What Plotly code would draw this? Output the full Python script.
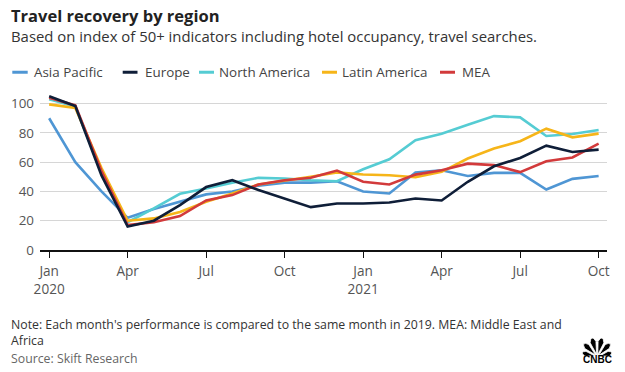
import math
import plotly.graph_objects as go

months = ["Jan 2020", "Feb 2020", "Mar 2020", "Apr 2020", "May 2020", "Jun 2020",
          "Jul 2020", "Aug 2020", "Sep 2020", "Oct 2020", "Nov 2020", "Dec 2020",
          "Jan 2021", "Feb 2021", "Mar 2021", "Apr 2021", "May 2021", "Jun 2021",
          "Jul 2021", "Aug 2021", "Sep 2021", "Oct 2021"]

asia_pacific = [90, 60, 40, 22, 28, 33, 38, 40, 44, 46, 46, 47, 40, 38.6, 53, 54.5, 50.6, 52.7, 52.7, 41.3, 48.6, 50.6]
europe = [105, 98.3, 51, 16, 20, 30.7, 43, 47.7, 41, 35.2, 29.3, 31.8, 31.8, 32.5, 35.2, 33.8, 46.6, 57.2, 62.9, 71.3, 67, 68.6]
north_america = [103, 98, 53, 19, 28.4, 38.4, 42, 46, 49.3, 48.8, 47.7, 47, 55.2, 62, 75, 79.5, 85.6, 91.5, 90.6, 77.9, 79.3, 82]
latin_america = [99.5, 97, 56, 20, 21.6, 26, 33, 38.6, 44.8, 47.2, 50, 53, 51.6, 51.1, 49.7, 53.4, 62.5, 69.3, 74.3, 82.9, 77, 79.5]
mea = [104, 98.8, 54, 17, 18.9, 23.2, 33.9, 37.5, 44.8, 47.7, 49.3, 54.3, 46.6, 44.8, 51.5, 54.5, 59, 58, 53.2, 60.6, 63.2, 72.7]

series_names = ["Asia Pacific", "Europe", "North America", "Latin America", "MEA"]
series_values = [asia_pacific, europe, north_america, latin_america, mea]
series_colors = ["#4f96d4", "#0f1e38", "#55ccd3", "#f6b519", "#d23a3b"]

tick_idx = [0, 3, 6, 9, 12, 15, 18, 21]
tick_labels = ["Jan<br>2020", "Apr", "Jul", "Oct", "Jan<br>2021", "Apr", "Jul", "Oct"]
y_ticks = [0, 20, 40, 60, 80, 100]

# The page body has an 8px margin: lay the figure out in page pixels minus that offset.
OFF = 8
W, H = 625 - OFF, 372 - OFF
PL, PR, PT, PB = 40, 607, 88.6, 250   # plot area in page pixels
L, R, T, B = PL - OFF, W - (PR - OFF), PT - OFF, H - (PB - OFF)
FONT = "'Open Sans', sans-serif"

x_idx = list(range(len(months)))

fig = go.Figure()
order = [0, 2, 3, 4, 1]   # Europe drawn on top
for i in order:
    fig.add_trace(go.Scatter(
        x=x_idx, y=series_values[i], mode="lines", name=series_names[i],
        line=dict(color=series_colors[i], width=2.6),
        customdata=months, hovertemplate="%{customdata}: %{y}<extra>" + series_names[i] + "</extra>",
        showlegend=False,
    ))

ph = H - T - B
pw = W - L - R

def py(p):
    return (H - B - (p - OFF)) / ph

def pxp(p):
    return ((p - OFF) - L) / pw

def text(t, x, baseline, size, color, anchor="left", fam=FONT, k=0.388):
    # place by baseline: the text box centre sits k*size above the baseline
    return dict(text=t, x=pxp(x), y=py(baseline - k * size), xref="paper", yref="paper",
                xanchor=anchor, yanchor="middle", showarrow=False, borderpad=0,
                font=dict(size=size, color=color, family=fam))

def text_top(t, x, first_baseline, size, color):
    # multi-line text anchored at its top edge
    top = first_baseline - 1.069 * size
    return dict(text=t, x=pxp(x), y=py(top), xref="paper", yref="paper", xanchor="left",
                yanchor="top", align="left", showarrow=False, borderpad=0,
                font=dict(size=size, color=color, family=FONT))

annotations = [
    text("<b>Travel recovery by region</b>", 9.5, 21, 16.5, "#222"),
    text("Based on index of 50+ indicators including hotel occupancy, travel searches.", 9.5, 41.7, 14.9, "#333"),
    text_top("Note: Each month's performance is compared to the same month in 2019. MEA: Middle East and<br>Africa",
             10, 328.8, 12.3, "#333"),
    text("Source: Skift Research", 10, 363.3, 12.3, "#666"),
    text("<b>CNBC</b>", 597, 363.5, 10, "#000", anchor="center", fam="'Liberation Sans', Arial, sans-serif", k=0.35),
]

shapes = []
legend_lines = [(12.3, 27.7), (122.7, 137.5), (199, 214), (322, 337), (440, 455)]
legend_text_x = [32.5, 143.5, 218, 340.5, 460.5]
legend_y = 71.8
for name, color, (x0, x1), tx in zip(series_names, series_colors, legend_lines, legend_text_x):
    shapes.append(dict(type="line", xref="paper", yref="paper", x0=pxp(x0), x1=pxp(x1),
                       y0=py(legend_y), y1=py(legend_y), line=dict(color=color, width=3)))
    annotations.append(text(name, tx, 76.7, 13.4, "#444"))

# peacock-like logo: six black feathers fanning from a base point
cx, cy = 597, 357
feather_angles = [165, 135, 105, 75, 45, 15]
feather_len = [15, 18, 19, 19, 18, 15]
half_w = 11
for a, ln in zip(feather_angles, feather_len):
    pts = []
    for d in (-half_w, 0, half_w):
        r = ln if d == 0 else ln * 0.82
        ang = math.radians(a + d)
        pts.append((cx + r * math.cos(ang), cy - r * math.sin(ang)))
    base_l = (cx + 2.2 * math.cos(math.radians(a - 6)), cy - 2.2 * math.sin(math.radians(a - 6)))
    path = "M {},{} L {},{} Q {},{} {},{} Z".format(
        pxp(base_l[0]), py(base_l[1]), pxp(pts[0][0]), py(pts[0][1]),
        pxp(pts[1][0] + (pts[1][0] - cx) * 0.25), py(pts[1][1] + (pts[1][1] - cy) * 0.25),
        pxp(pts[2][0]), py(pts[2][1]))
    shapes.append(dict(type="path", xref="paper", yref="paper", path=path,
                       fillcolor="#000", line=dict(color="#fff", width=0.8)))

fig.update_layout(
    width=W, height=H,
    margin=dict(l=L, r=R, t=T, b=B, pad=0, autoexpand=False),
    paper_bgcolor="white", plot_bgcolor="white",
    font=dict(family=FONT, size=13, color="#555"),
    showlegend=False,
    annotations=annotations, shapes=shapes,
    xaxis=dict(range=[-0.35, 21.32], tickvals=tick_idx, ticktext=tick_labels, automargin=False,
               showgrid=False, zeroline=False, showline=True, linecolor="#111", linewidth=1.5,
               ticks="outside", ticklen=6, tickwidth=1.2, tickcolor="#111", ticklabelstandoff=2,
               tickfont=dict(size=13.6, color="#555", family=FONT), fixedrange=True),
    yaxis=dict(range=[0, 110], tickvals=y_ticks, showgrid=True, gridcolor="#d6d6d6", gridwidth=1,
               automargin=False, zeroline=False, showline=False, ticks="", ticklabelstandoff=5,
               tickfont=dict(size=13.4, color="#555", family=FONT), fixedrange=True),
)

fig.write_html("out.html")
